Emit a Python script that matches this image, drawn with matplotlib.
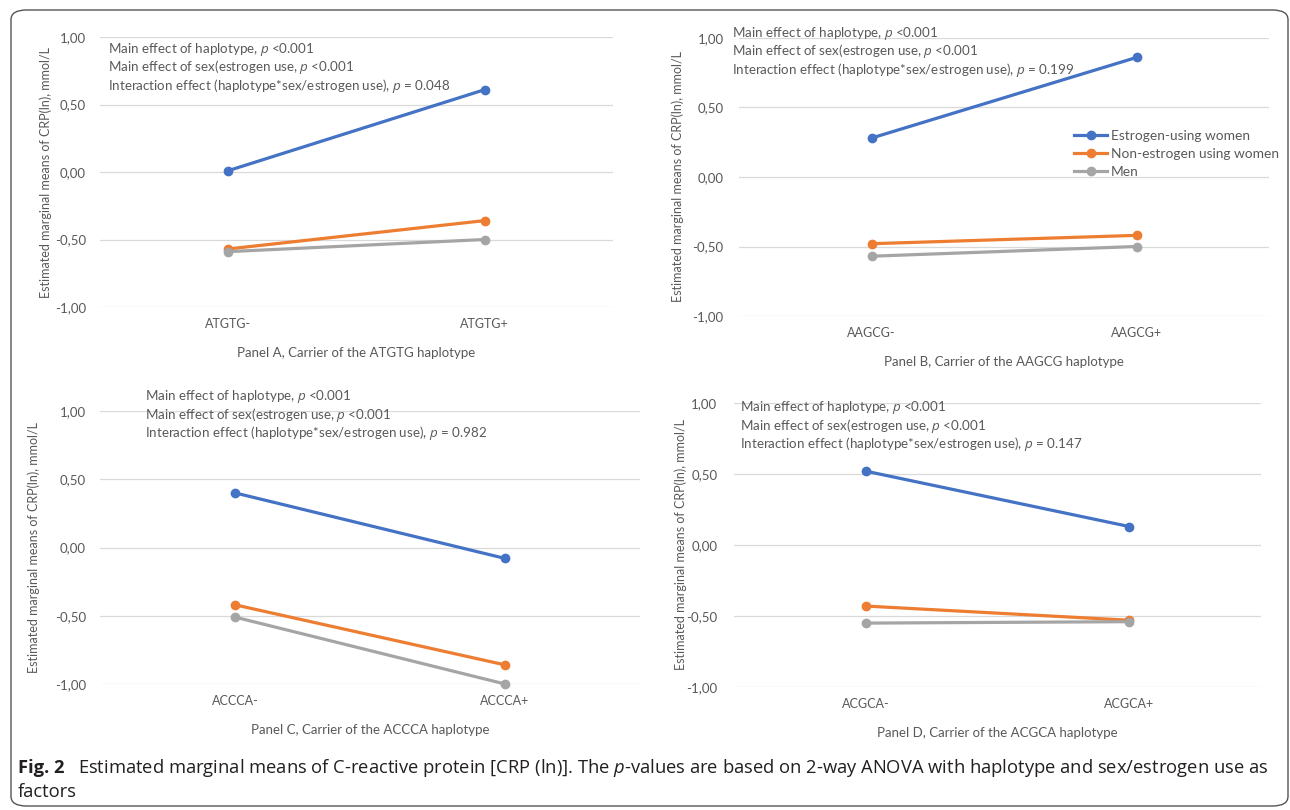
import numpy as np
import matplotlib
matplotlib.use('Agg')
import matplotlib.pyplot as plt
from matplotlib.patches import FancyBboxPatch

plt.rcParams['font.family'] = ['Lato', 'DejaVu Sans']
plt.rcParams['mathtext.fontset'] = 'custom'
plt.rcParams['mathtext.it'] = 'Lato:italic'
plt.rcParams['mathtext.rm'] = 'Lato'

# ── data ─────────────────────────────────────────────────────────
haplotypes = ["ATGTG", "AAGCG", "ACCCA", "ACGCA"]
panel_letters = ["A", "B", "C", "D"]
estrogen_women = [[0.01, 0.61], [0.28, 0.86], [0.40, -0.08], [0.52, 0.13]]
non_estrogen_women = [[-0.57, -0.36], [-0.48, -0.42], [-0.42, -0.86], [-0.43, -0.53]]
men = [[-0.59, -0.50], [-0.57, -0.50], [-0.51, -1.00], [-0.55, -0.54]]
interaction_p = ["0.048", "0.199", "0.982", "0.147"]
yticks = [-1.0, -0.5, 0.0, 0.5, 1.0]

series = [("Estrogen-using women", estrogen_women, "#4472C4"),
          ("Non-estrogen using women", non_estrogen_women, "#ED7D31"),
          ("Men", men, "#A5A5A5")]

W, H = 1290, 810
# pixel boxes: left, right, top(y=1), bottom(y=-1)
boxes = [(100, 613, 37, 307), (739, 1269, 38, 316),
         (100, 640, 411, 684), (734, 1261, 403, 687)]
ylabel_x = [52, 684, 40, 687]
note_pos = [(108, 49), (732, 33), (145, 396), (740, 407)]
ypads = [10, 11, 10, 12]

TXT = '#595959'

fig = plt.figure(figsize=(W / 100, H / 100), dpi=100)
fig.patch.set_facecolor('white')

fig.patches.append(FancyBboxPatch((11 / W, 1 - 806 / H), 1277 / W, 796 / H,
                                  boxstyle="round,pad=0,rounding_size=0.012",
                                  transform=fig.transFigure, fill=False,
                                  edgecolor='#555555', linewidth=1.0))

axes = []
for i, (l, r, t, b) in enumerate(boxes):
    ax = fig.add_axes([l / W, 1 - b / H, (r - l) / W, (b - t) / H])
    x = [0, 1]
    for name, vals, col in series:
        ax.plot(x, vals[i], color=col, linewidth=2.3, marker='o', markersize=6,
                label=name, clip_on=False, zorder=3)
    ax.set_xlim(-0.5, 1.5)
    ax.set_ylim(-1, 1)
    ax.set_yticks(yticks)
    ax.set_yticklabels([f"{v:.2f}".replace('.', ',') for v in yticks])
    ax.set_xticks(x)
    ax.set_xticklabels([f"{haplotypes[i]}-", f"{haplotypes[i]}+"])
    ax.tick_params(axis='both', length=0, colors=TXT, labelsize=9)
    ax.tick_params(axis='y', pad=ypads[i], labelsize=9.5)
    ax.tick_params(axis='x', pad=8)
    for s in ax.spines.values():
        s.set_visible(False)
    ax.grid(axis='y', color='#D9D9D9', linewidth=0.9)
    ax.set_axisbelow(True)
    ax.set_xlabel(f"Panel {panel_letters[i]}, Carrier of the {haplotypes[i]} haplotype",
                  fontsize=9.5, color=TXT, labelpad=12)
    ax.set_ylabel("Estimated marginal means of CRP(ln), mmol/L", fontsize=9, color=TXT)
    ax.yaxis.set_label_coords((ylabel_x[i] - l) / (r - l), 0.5)

    nx, ny = note_pos[i]
    notes = [r"Main effect of haplotype, $\it{p}$ <0.001",
             r"Main effect of sex(estrogen use, $\it{p}$ <0.001",
             r"Interaction effect (haplotype*sex/estrogen use), $\it{p}$ = " + interaction_p[i]]
    for k, s in enumerate(notes):
        fig.text(nx / W, 1 - (ny + 18.5 * k) / H, s, fontsize=9.6, color=TXT,
                 ha='left', va='center')
    axes.append(ax)

leg = axes[1].legend(loc='upper left', bbox_to_anchor=(1074 / W, 1 - 130 / H),
                     bbox_transform=fig.transFigure, frameon=False, fontsize=9.9,
                     handlelength=2.4, handletextpad=0.3, labelspacing=0.42,
                     borderaxespad=0, borderpad=0)
for t in leg.get_texts():
    t.set_color(TXT)

# caption, sized so the first line spans the same width as the reference
cap_font = ['Open Sans', 'DejaVu Sans']
cap_rest = ("Estimated marginal means of C-reactive protein [CRP (ln)]. The $\\it{p}$-values are based on "
            "2-way ANOVA with haplotype and sex/estrogen use as")
plt.rcParams['mathtext.it'] = 'Open Sans:italic'
cap_size = 12.0
t1 = fig.text(18 / W, 1 - 768 / H, "Fig. 2", fontsize=cap_size, fontweight='bold',
              family=cap_font, color='#231F20', va='center')
t2 = fig.text(0, 1 - 768 / H, cap_rest, fontsize=cap_size, family=cap_font,
              color='#231F20', va='center')
fig.canvas.draw()
r = fig.canvas.get_renderer()
total = t1.get_window_extent(r).width + 12 + t2.get_window_extent(r).width
cap_size = cap_size * (1267 - 18) / total
t1.set_fontsize(cap_size)
t2.set_fontsize(cap_size)
fig.canvas.draw()
bb = t1.get_window_extent(r)
t2.set_x((bb.x1 + 12 * cap_size / 12) / W)
fig.text(18 / W, 1 - 792 / H, "factors", fontsize=cap_size, family=cap_font,
         color='#231F20', va='center')

plt.savefig("out.png", dpi=100)
print("saved")
